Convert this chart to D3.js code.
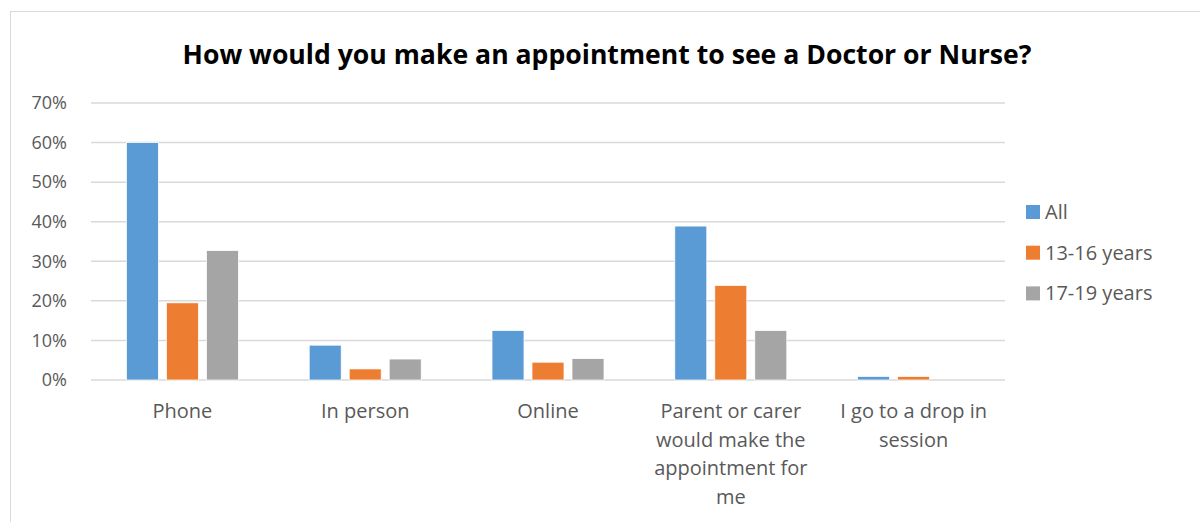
<!DOCTYPE html>
<meta charset="utf-8">
<script src="https://d3js.org/d3.v7.min.js"></script>
<style>
  body { margin: 0; background: #fff; }
  text { font-family: "Open Sans", sans-serif; fill: #595959; }
</style>
<body>
<div id="chart"></div>
<script>
// data
var categories = ["Phone", "In person", "Online", "Parent or carer would make the appointment for me", "I go to a drop in session"];
var categoryLines = [["Phone"], ["In person"], ["Online"], ["Parent or carer", "would make the", "appointment for", "me"], ["I go to a drop in", "session"]];
var seriesNames = ["All", "13-16 years", "17-19 years"];
var seriesColors = ["#5b9bd5", "#ed7d31", "#a5a5a5"];
var allValues = [0.60, 0.088, 0.125, 0.389, 0.009];
var age1316Values = [0.195, 0.028, 0.045, 0.239, 0.009];
var age1719Values = [0.327, 0.053, 0.054, 0.125, 0];
var yTicks = [0, 0.1, 0.2, 0.3, 0.4, 0.5, 0.6, 0.7];

var series = [allValues, age1316Values, age1719Values];

var W = 1200, H = 522;
var margin = { top: 103, left: 91, right: 195, bottom: 142 };
var plotW = W - margin.left - margin.right,
    plotH = H - margin.top - margin.bottom;

var svg = d3.select("#chart").append("svg")
    .attr("width", W)
    .attr("height", H);

// chart frame
svg.append("rect")
    .attr("x", 10.5).attr("y", 11.5)
    .attr("width", 1300).attr("height", 700)
    .attr("fill", "none")
    .attr("stroke", "#d9d9d9");

// title, squeezed to the width of the original
var title = svg.append("text")
    .attr("x", 607).attr("y", 55)
    .attr("dy", "0.35em")
    .attr("text-anchor", "middle")
    .style("font-weight", "bold")
    .style("font-size", "24px")
    .style("fill", "#000")
    .text("How would you make an appointment to see a Doctor or Nurse?");
var tw = title.node().getComputedTextLength();
title.style("font-size", (24 * 849 / tw) + "px");

var g = svg.append("g")
    .attr("transform", "translate(" + margin.left + "," + margin.top + ")");

var x = d3.scaleBand().domain(categories).range([0, plotW]);
var y = d3.scaleLinear().domain([0, 0.7]).range([plotH, 0]);

var barW = 32, barGap = 8;
var groupW = seriesNames.length * barW + (seriesNames.length - 1) * barGap;

// gridlines
g.append("g")
    .selectAll("line")
    .data(yTicks)
    .enter().append("line")
    .attr("x1", 0).attr("x2", plotW)
    .attr("y1", function (d) { return y(d); })
    .attr("y2", function (d) { return y(d); })
    .attr("stroke", "#d9d9d9")
    .attr("stroke-width", 1.5);

// y labels
g.append("g")
    .selectAll("text")
    .data(yTicks)
    .enter().append("text")
    .attr("x", -24)
    .attr("y", function (d) { return y(d); })
    .attr("dy", "0.35em")
    .attr("text-anchor", "end")
    .style("font-size", "18px")
    .text(d3.format(".0%"));

// bars
series.forEach(function (vals, si) {
    g.append("g")
        .selectAll("rect")
        .data(vals)
        .enter().append("rect")
        .attr("x", function (d, i) {
            return x(categories[i]) + x.bandwidth() / 2 - groupW / 2 + si * (barW + barGap);
        })
        .attr("y", function (d) { return y(d); })
        .attr("width", barW)
        .attr("height", function (d) { return plotH - y(d); })
        .attr("fill", seriesColors[si])
        .attr("stroke", "#fff")
        .attr("stroke-width", 0.75);
});

// category labels
var cat = g.append("g")
    .selectAll("text")
    .data(categories)
    .enter().append("text")
    .attr("text-anchor", "middle")
    .style("font-size", "20px")
    .attr("transform", function (d) {
        return "translate(" + (x(d) + x.bandwidth() / 2) + "," + (plotH + 31) + ")";
    });
cat.selectAll("tspan")
    .data(function (d, i) { return categoryLines[i]; })
    .enter().append("tspan")
    .attr("x", 0)
    .attr("y", function (d, i) { return i * 28.6; })
    .attr("dy", "0.35em")
    .text(function (d) { return d; });

// legend
var legend = svg.append("g")
    .selectAll("g")
    .data(seriesNames)
    .enter().append("g")
    .attr("transform", function (d, i) { return "translate(1026," + (212 + i * 40.7) + ")"; });
legend.append("rect")
    .attr("x", 0).attr("y", -7)
    .attr("width", 14).attr("height", 14)
    .attr("fill", function (d, i) { return seriesColors[i]; });
legend.append("text")
    .attr("x", 19)
    .attr("dy", "0.35em")
    .style("font-size", "20px")
    .text(function (d) { return d; });
</script>
</body>
